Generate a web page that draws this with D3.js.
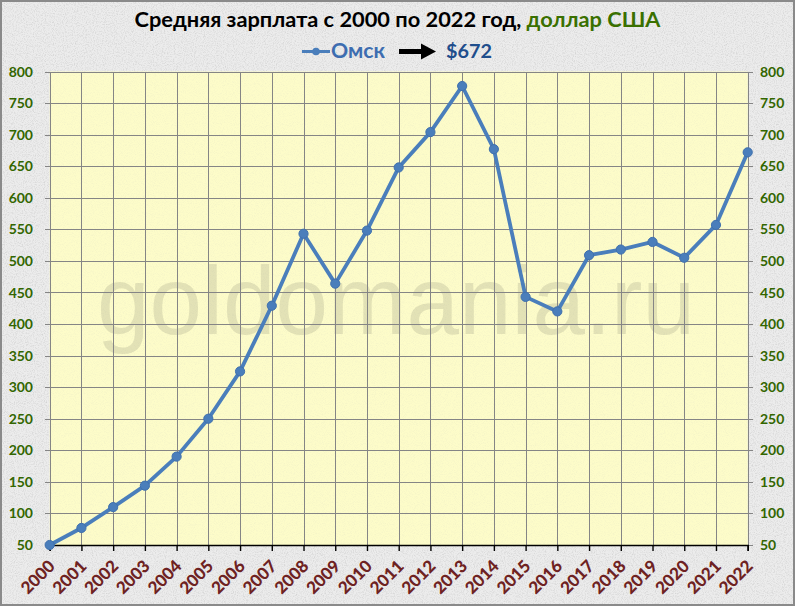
<!DOCTYPE html>
<html><head><meta charset="utf-8">
<script src="https://cdn.jsdelivr.net/npm/d3@7"></script>
<style>html,body{margin:0;padding:0;background:#ebebeb;}svg{display:block;}</style>
</head><body>
<svg id="chart" width="795" height="606"></svg>
<script>
const years = ["2000","2001","2002","2003","2004","2005","2006","2007","2008","2009","2010","2011","2012","2013","2014","2015","2016","2017","2018","2019","2020","2021","2022"];
const omsk = [50,77,110,144,190,250,325,429,543,464,548,648,704,777,677,443,420,509,518,530,505,557,672];
const yTicks = [50,100,150,200,250,300,350,400,450,500,550,600,650,700,750,800];
const titleBlack = "Средняя зарплата с 2000 по 2022 год, ";
const titleGreen = "доллар США";
const seriesName = "Омск";
const lastLabel = "$672";
const watermark = "goldomania.ru";

const W = 795, H = 606;
const svg = d3.select("#chart");
const defs = svg.append("defs");
const f = defs.append("filter").attr("id","noise").attr("x",0).attr("y",0).attr("width","100%").attr("height","100%");
f.append("feTurbulence").attr("type","fractalNoise").attr("baseFrequency",0.9).attr("numOctaves",2).attr("seed",4).attr("result","t");
f.append("feColorMatrix").attr("in","t").attr("type","matrix")
  .attr("values","0 0 0 0 0.55  0 0 0 0 0.55  0 0 0 0 0.55  2.2 0 0 0 -0.95");
const f2 = defs.append("filter").attr("id","noise2").attr("x",0).attr("y",0).attr("width","100%").attr("height","100%");
f2.append("feTurbulence").attr("type","fractalNoise").attr("baseFrequency",1.1).attr("numOctaves",1).attr("seed",7).attr("result","t");
f2.append("feColorMatrix").attr("in","t").attr("type","matrix")
  .attr("values","0 0 0 0 0.75  0 0 0 0 0.75  0 0 0 0 0.55  1.6 0 0 0 -0.72");

// background
svg.append("rect").attr("width",W).attr("height",H).attr("fill","#ececec");
svg.append("rect").attr("width",W).attr("height",H).attr("filter","url(#noise)").attr("opacity",0.6);

const L = 49.7, R = 747.7, T = 71.5, B = 545;
const x = d3.scalePoint().domain(years).range([L, R]);
const y = d3.scaleLinear().domain([50, 800]).range([B, T]);

// plot area
svg.append("rect").attr("x",L).attr("y",T).attr("width",R-L).attr("height",B-T).attr("fill","#fdfcc9");
svg.append("rect").attr("x",L).attr("y",T).attr("width",R-L).attr("height",B-T).attr("filter","url(#noise2)").attr("opacity",0.5);

// watermark
svg.append("text").attr("x",97).attr("y",334).attr("font-family","Liberation Sans, Arial, sans-serif")
  .attr("font-size",96).attr("fill","#8a8a70").attr("fill-opacity",0.22)
  .attr("textLength",598).attr("lengthAdjust","spacingAndGlyphs").text(watermark);

// grid
const grid = svg.append("g").attr("stroke","#858585").attr("stroke-width",1).attr("shape-rendering","crispEdges");
grid.selectAll("line.h").data(yTicks).join("line").attr("class","h")
  .attr("x1",L-5).attr("x2",R+5).attr("y1",d=>Math.round(y(d))+0.5).attr("y2",d=>Math.round(y(d))+0.5);
grid.selectAll("line.v").data(years).join("line").attr("class","v")
  .attr("x1",d=>Math.round(x(d))+0.5).attr("x2",d=>Math.round(x(d))+0.5).attr("y1",T).attr("y2",B);

// bottom axis
const xAxis = d3.axisBottom(x).tickSize(6).tickFormat("");
const gx = svg.append("g").attr("transform",`translate(0,${B})`).call(xAxis);
gx.select(".domain").attr("stroke","#000").attr("stroke-width",1.6);
gx.selectAll(".tick line").attr("stroke","#000").attr("stroke-width",1.4);

svg.append("g").selectAll("text").data(years).join("text")
  .attr("transform",d=>`translate(${x(d)+2},${B+18}) rotate(-45)`)
  .attr("text-anchor","end").attr("font-family","Lato, sans-serif").attr("font-weight","900")
  .attr("font-size",17).attr("fill","#6e2222").attr("dy","0.35em").text(d=>d);

// y labels
const yl = svg.append("g").attr("font-family","Lato, sans-serif").attr("font-weight","bold").attr("font-size",14).attr("fill","#336600");
yl.selectAll("text.l").data(yTicks).join("text").attr("class","l")
  .attr("x",33).attr("y",d=>y(d)).attr("dy","0.36em").attr("text-anchor","end").text(d=>d);
yl.selectAll("text.r").data(yTicks).join("text").attr("class","r")
  .attr("x",760).attr("y",d=>y(d)).attr("dy","0.36em").attr("text-anchor","start").text(d=>d);

// line
const color = "#4a7ebb";
const line = d3.line().x((d,i)=>x(years[i])).y(d=>y(d));
svg.append("path").datum(omsk).attr("d",line).attr("fill","none").attr("stroke",color)
  .attr("stroke-width",3.8).attr("stroke-linejoin","round");
svg.append("g").selectAll("circle").data(omsk).join("circle")
  .attr("cx",(d,i)=>x(years[i])).attr("cy",d=>y(d)).attr("r",4.6)
  .attr("fill",color).attr("stroke","#3f70ad").attr("stroke-width",1);

// title
const title = svg.append("text").attr("x",W/2).attr("y",27).attr("text-anchor","middle")
  .attr("font-family","Lato, sans-serif").attr("font-weight","bold").attr("font-size",20);
title.append("tspan").attr("fill","#000").text(titleBlack);
title.append("tspan").attr("fill","#3a7000").text(titleGreen);
const tw = title.node().getComputedTextLength();
title.attr("font-size", 20 * 526 / tw);

// legend
const ly = 51.5;
svg.append("line").attr("x1",302).attr("x2",330).attr("y1",ly).attr("y2",ly).attr("stroke",color).attr("stroke-width",3);
svg.append("circle").attr("cx",316).attr("cy",ly).attr("r",3.8).attr("fill",color);
const t1 = svg.append("text").attr("x",331).attr("y",ly+6.5).attr("font-family","Lato, sans-serif").attr("font-weight","bold")
  .attr("font-size",19).attr("fill","#3d6db0").text(seriesName);
const w1 = t1.node().getComputedTextLength(); t1.attr("font-size",19*54/w1);
// arrow
svg.append("rect").attr("x",399).attr("y",ly-2.5).attr("width",24).attr("height",5).attr("fill","#000");
svg.append("path").attr("d",`M421,${ly-8} L436,${ly} L421,${ly+8} Z`).attr("fill","#000");
const t2 = svg.append("text").attr("x",446).attr("y",ly+6.5).attr("font-family","Lato, sans-serif").attr("font-weight","bold")
  .attr("font-size",19).attr("fill","#1f4e8c").text(lastLabel);
const w2 = t2.node().getComputedTextLength(); t2.attr("font-size",19*46/w2);

// outer border
svg.append("rect").attr("x",1).attr("y",1).attr("width",W-2).attr("height",H-2).attr("fill","none").attr("stroke","#8a8a8a").attr("stroke-width",2);
</script>
</body></html>
